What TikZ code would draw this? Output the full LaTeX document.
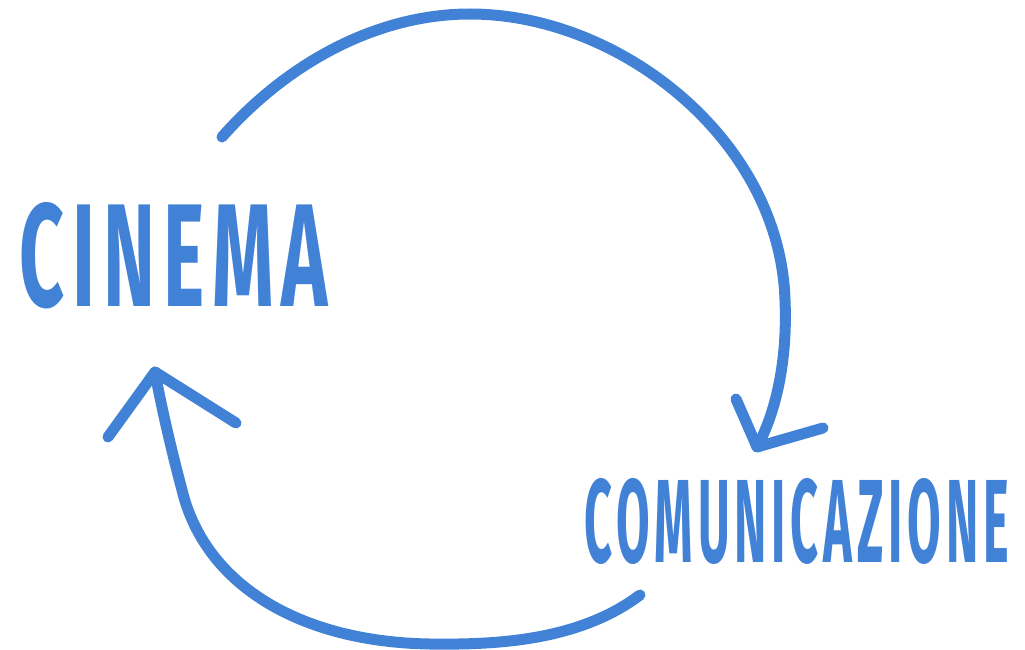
\documentclass[tikz,border=0pt]{standalone}
\usepackage{fontspec}
\setmainfont{Fira Sans}
\newfontfamily\handfont[LetterSpace=10]{Fira Sans}
\usepackage{graphicx}
\definecolor{penblue}{RGB}{66,130,214}
\begin{document}
\begin{tikzpicture}[x=1pt,y=-1pt,
  pen/.style={draw=penblue, line width=11pt, line cap=round, line join=round},
  word/.style={text=penblue, inner sep=0pt, font=\handfont\bfseries}]
\useasboundingbox (0,0) rectangle (1025,650);
\node[word] (cinema) at (174,256) {\resizebox{308pt}{104pt}{CINEMA}};
\node[word] (comm) at (797,521) {\resizebox{424pt}{84pt}{COMUNICAZIONE}};
% upper arc
\coordinate (a1s) at (222,137);
\coordinate (a1t) at (757,447);
\coordinate (h1a) at (736,399);
\coordinate (h1b) at (823,428);
\draw[pen] (a1s) .. controls (290,60) and (380,14) .. (470,14)
  .. controls (620,14) and (780,140) .. (785,300)
  .. controls (788,370) and (772,420) .. (a1t);
\draw[pen] (h1a) -- (a1t) -- (h1b);
% lower arc
\coordinate (a2s) at (640,595);
\coordinate (a2t) at (155,372);
\coordinate (h2a) at (108,437);
\coordinate (h2b) at (236,423);
\draw[pen] (a2s) .. controls (580,640) and (500,645) .. (430,644)
  .. controls (300,642) and (205,585) .. (182,490)
  .. controls (170,445) and (160,400) .. (a2t);
\draw[pen] (h2a) -- (a2t) -- (h2b);
\end{tikzpicture}
\end{document}
